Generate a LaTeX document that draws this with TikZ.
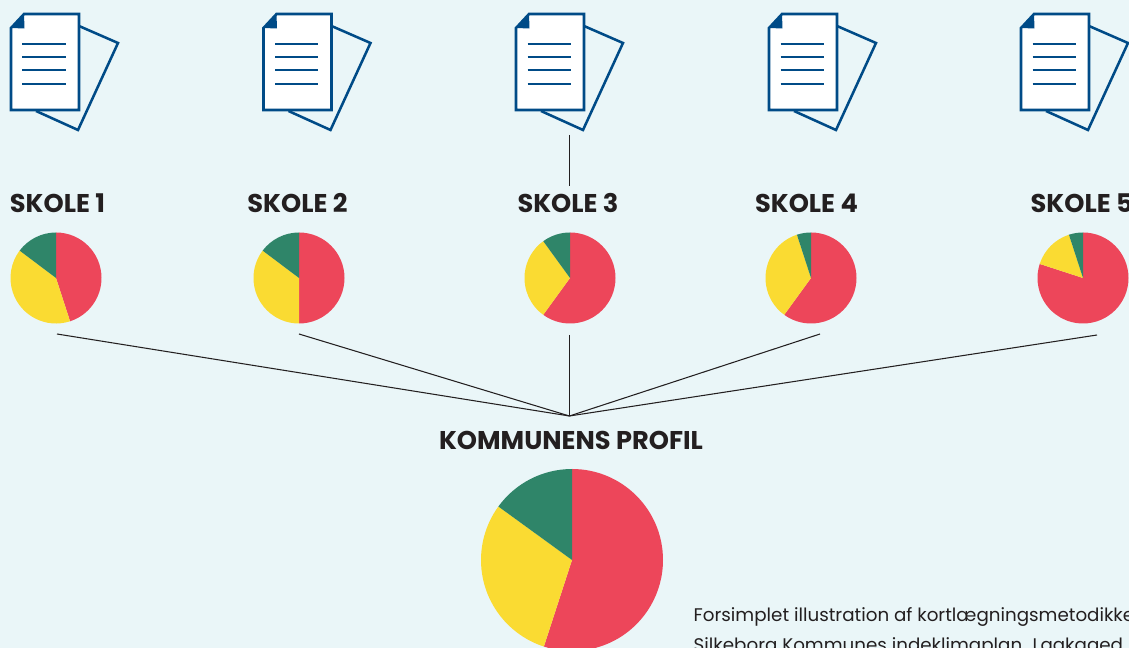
\documentclass[tikz,border=0pt]{standalone}
\usepackage{fontspec}
\setmainfont{Poppins}
\definecolor{bgblue}{HTML}{EAF6F8}
\definecolor{docblue}{HTML}{004B87}
\definecolor{slicered}{HTML}{ED465A}
\definecolor{sliceyellow}{HTML}{FADB32}
\definecolor{slicegreen}{HTML}{2F8569}
\definecolor{inkdark}{HTML}{231F20}
\tikzset{
  docline/.style={docblue,line width=0.72pt},
  wire/.style={inkdark,line width=0.3pt},
  schoolname/.style={inkdark,font=\fontsize{7.3}{8}\selectfont\bfseries,inner sep=0pt},
  caption/.style={inkdark,font=\fontsize{5.2}{8}\selectfont,inner sep=0pt,anchor=base west},
}
% pie with red from 90 down to #4, yellow to #5, green back to 90
\newcommand{\pieslices}[5]{
  \fill[slicered] (#1,#2) -- ++(90:#3) arc (90:#4:#3) -- cycle;
  \fill[sliceyellow] (#1,#2) -- ++(#4:#3) arc (#4:#5:#3) -- cycle;
  \fill[slicegreen] (#1,#2) -- ++(#5:#3) arc (#5:90-360:#3) -- cycle;
}
\begin{document}
\begin{tikzpicture}[x=0.01cm,y=0.01cm]
    \useasboundingbox (0,0) rectangle (1129,648);
    \clip (0,0) rectangle (1129,648);
    \fill[bgblue] (0,0) rectangle (1129,648);

    % documents
    \foreach \dx in {0,252.5,505,758,1010} {
      \begin{scope}[xshift=\dx*0.01cm]
        \draw[docline,line join=miter] (79,622) -- (118,605) -- (78,518) -- (36,537);
        \draw[docline,fill=white] (11,620) -- (24,634) -- (79,634) -- (79,538) -- (11,538) -- cycle;
        \fill[docblue] (11,620) -- (24,634) -- (24.5,619.5) -- cycle;
        \foreach \ly in {604,591,578,564} {
          \draw[docline] (22.5,\ly) -- (65.5,\ly);
        }
      \end{scope}
    }

    % names
    \node[schoolname] (skole1) at (57.5,444.5) {SKOLE 1};
    \node[schoolname] (skole2) at (297.5,444.5) {SKOLE 2};
    \node[schoolname] (skole3) at (568,444.5) {SKOLE 3};
    \node[schoolname] (skole4) at (806.5,444.5) {SKOLE 4};
    \node[schoolname,anchor=west] (skole5) at (1030,444.5) {SKOLE 5};
    \node[schoolname] (kommune) at (571,207.5) {KOMMUNENS PROFIL};

    % pies
    \pieslices{56}{370}{45.5}{-72}{-217}
    \pieslices{299}{370}{45.5}{-90}{-217}
    \pieslices{570}{370}{45.5}{-126}{-234}
    \pieslices{811}{370}{45.5}{-126}{-252}
    \pieslices{1083}{370}{45.5}{-198}{-252}
    \pieslices{572}{88}{91}{-108}{-216}

    % wires
    \coordinate (hub) at (569.4,232);
    \coordinate (doc3) at (569.5,513);
    \coordinate (top3) at (569.5,462);
    \coordinate (pie1) at (57,314);
    \coordinate (pie2) at (299,314);
    \coordinate (pie3) at (569.4,313);
    \coordinate (pie4) at (820,314);
    \coordinate (pie5) at (1097,313);
    \draw[wire] (doc3) -- (top3);
    \foreach \p in {pie1,pie2,pie3,pie4,pie5} {
      \draw[wire] (\p) -- (hub);
    }

    \node[caption] (note1) at (693,26.5) {Forsimplet illustration af kortlægningsmetodikken};
    \node[caption] (note2) at (693,-3.5) {Silkeborg Kommunes indeklimaplan. Lagkaged};
\end{tikzpicture}
\end{document}
